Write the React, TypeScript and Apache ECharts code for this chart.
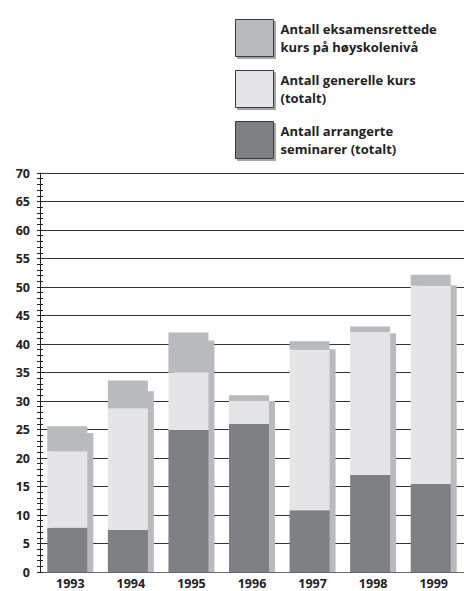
import React, { useEffect, useRef } from "react";
import * as echarts from "echarts";

const years = ["1993", "1994", "1995", "1996", "1997", "1998", "1999"];
// cumulative levels
const seminarer = [7.75, 7.35, 24.9, 25.95, 10.85, 17.0, 15.45];
const generelleTop = [21.2, 28.75, 35.05, 30.0, 39.0, 42.1, 50.2];
const totalTop = [25.55, 33.6, 42.0, 31.0, 40.5, 43.05, 52.15];
const shadowTop = [24.4, 31.7, 40.6, 30.0, 39.1, 41.9, 50.3];

const generelle = generelleTop.map((v, i) => +(v - seminarer[i]).toFixed(2));
const eksamen = totalTop.map((v, i) => +(v - generelleTop[i]).toFixed(2));

const nameEksamen = "Antall eksamensrettede\nkurs på høyskolenivå";
const nameGenerelle = "Antall generelle kurs\n(totalt)";
const nameSeminar = "Antall arrangerte\nseminarer (totalt)";

const cDark = "#7f8084";
const cLight = "#e5e5e7";
const cMid = "#b9babe";
const FONT = "'Open Sans', 'DejaVu Sans', sans-serif";

export default function App() {
  const ref = useRef<HTMLDivElement>(null);
  useEffect(() => {
    if (!ref.current) return;
    const chart = echarts.init(ref.current, undefined, { renderer: "svg" });
    const tickStyle = { color: "#222", width: 1 };
    const yBase = {
      type: "value",
      min: 0,
      max: 70,
      interval: 5,
      position: "left",
    };
    const legendItem = (name: string, color: string) => ({
      name,
      itemStyle: {
        color,
        borderColor: "#3a3a3a",
        borderWidth: 1,
        shadowColor: "rgba(0,0,0,0.35)",
        shadowOffsetX: 2,
        shadowOffsetY: 2,
        shadowBlur: 0,
      },
    });
    chart.setOption({
      animation: false,
      backgroundColor: "#fff",
      textStyle: { fontFamily: FONT },
      legend: {
        orient: "vertical",
        left: 230,
        top: 14,
        itemWidth: 38,
        itemHeight: 37,
        itemGap: 13,
        icon: "rect",
        selectedMode: false,
        data: [
          legendItem(nameEksamen, cMid),
          legendItem(nameGenerelle, cLight),
          legendItem(nameSeminar, cDark),
        ],
        textStyle: {
          fontFamily: FONT,
          fontWeight: "bold",
          fontSize: 13,
          lineHeight: 18,
          color: "#222",
          padding: [0, 0, 0, 2],
        },
      },
      grid: { left: 40, right: 0, top: 173, bottom: 19, containLabel: false },
      xAxis: {
        type: "category",
        data: years,
        axisLine: { show: true, lineStyle: { color: "#666", width: 1 } },
        axisTick: { show: false },
        axisLabel: {
          margin: 5,
          fontFamily: FONT,
          fontWeight: "bold",
          fontSize: 12.5,
          lineHeight: 13,
          color: "#222",
        },
      },
      yAxis: [
        {
          ...yBase,
          axisLine: { show: true, lineStyle: { color: "#222", width: 1 } },
          axisTick: { show: true, length: 3, lineStyle: tickStyle },
          minorTick: { show: true, splitNumber: 5, length: 3, lineStyle: tickStyle },
          splitLine: { show: true, lineStyle: { color: "#333", width: 1 } },
          axisLabel: {
            margin: 10,
            fontFamily: FONT,
            fontWeight: "bold",
            fontSize: 12.5,
            color: "#222",
          },
        },
        {
          ...yBase,
          axisLine: { show: false },
          axisTick: { show: true, inside: true, length: 3, lineStyle: tickStyle },
          minorTick: { show: true, splitNumber: 5, length: 3, lineStyle: tickStyle },
          splitLine: { show: false },
          axisLabel: { show: false },
        },
      ],
      series: [
        {
          name: nameSeminar,
          type: "bar",
          stack: "s",
          data: seminarer,
          barWidth: 40,
          barGap: "-85%",
          itemStyle: { color: cDark },
          z: 3,
        },
        {
          name: nameGenerelle,
          type: "bar",
          stack: "s",
          data: generelle,
          barWidth: 40,
          barGap: "-85%",
          itemStyle: { color: cLight },
          z: 3,
        },
        {
          name: nameEksamen,
          type: "bar",
          stack: "s",
          data: eksamen,
          barWidth: 40,
          barGap: "-85%",
          itemStyle: { color: cMid },
          z: 3,
        },
        {
          name: "skygge",
          type: "bar",
          data: shadowTop,
          barWidth: 40,
          barGap: "-85%",
          itemStyle: { color: cMid },
          z: 2,
        },
      ],
    });
    return () => chart.dispose();
  }, []);
  return (
    <div
      ref={ref}
      style={{ position: "absolute", left: 0, top: 0, width: 464, height: 591 }}
    />
  );
}
